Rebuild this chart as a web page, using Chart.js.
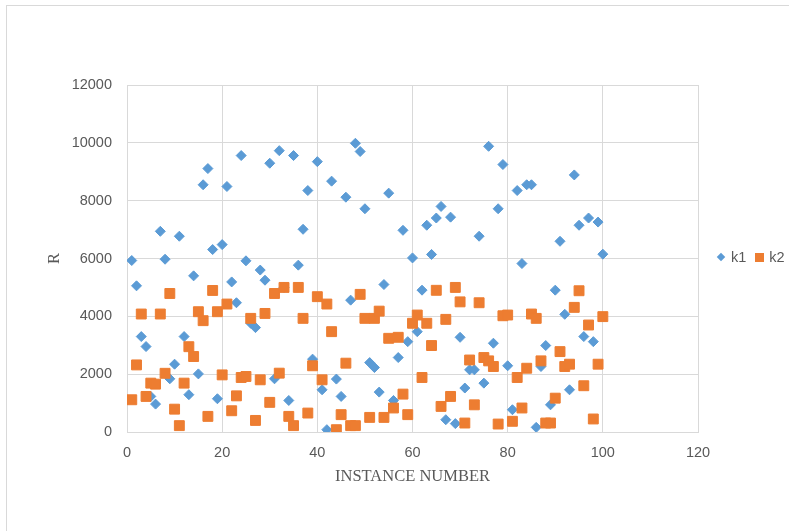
<!DOCTYPE html>
<html>
<head>
<meta charset="utf-8">
<script src="https://cdn.jsdelivr.net/npm/chart.js@4"></script>
<style>
  html, body { margin: 0; padding: 0; background: #fff; }
  #wrap { position: relative; width: 789px; height: 531px; overflow: hidden; }
  #frame { position: absolute; left: 6px; top: 5px; width: 820px; height: 600px; border: 1px solid #d9d9d9; }
  #chart { position: absolute; left: 0; top: 0; }
  #legend { position: absolute; left: 716px; top: 249px; font: 14.5px "Liberation Sans", Arial, sans-serif; color: #595959; white-space: nowrap; }
  #legend span.item { display: inline-block; margin-right: 9px; }
  #legend i { display: inline-block; vertical-align: middle; margin-right: 5px; position: relative; top: -1px; }
</style>
</head>
<body>
<div id="wrap">
  <div id="frame"></div>
  <canvas id="chart" width="789" height="531"></canvas>
  <div id="legend"></div>
</div>
<script>
// instance number (x)
const instances = [
  1, 2, 3, 4, 5, 6, 7, 8, 9, 10, 11, 12, 13, 14, 15, 16, 17, 18, 19, 20,
  21, 22, 23, 24, 25, 26, 27, 28, 29, 30, 31, 32, 33, 34, 35, 36, 37, 38, 39, 40,
  41, 42, 43, 44, 45, 46, 47, 48, 49, 50, 51, 52, 53, 54, 55, 56, 57, 58, 59, 60,
  61, 62, 63, 64, 65, 66, 67, 68, 69, 70, 71, 72, 73, 74, 75, 76, 77, 78, 79, 80,
  81, 82, 83, 84, 85, 86, 87, 88, 89, 90, 91, 92, 93, 94, 95, 96, 97, 98, 99, 100
];

// R values
const k1 = [
  5930, 5055, 3300, 2955, 1230, 965, 6940, 5975, 1840, 2345,
  6770, 3300, 1290, 5400, 2010, 8550, 9110, 6310, 1150, 6480,
  8490, 5190, 4470, 9560, 5920, 3760, 3610, 5600, 5250, 9295,
  1840, 9730, 5000, 1090, 9560, 5770, 7010, 8350, 2520, 9350,
  1460, 80, 8675, 1830, 1230, 8120, 4560, 9985, 9700, 7720,
  2400, 2230, 1380, 5100, 8260, 1090, 2575, 6975, 3125, 6020,
  3470, 4905, 7150, 6140, 7400, 7800, 425, 7430, 290, 3275,
  1520, 2150, 2150, 6770, 1690, 9880, 3070, 7720, 9250, 2290,
  770, 8350, 5825, 8550, 8550, 160, 2265, 2990, 940, 4905,
  6595, 4070, 1460, 8890, 7150, 3300, 7400, 3125, 7260, 6150
];

const k2 = [
  1115, 2320, 4080, 1230, 1690, 1655, 4080, 2030, 4790, 790,
  220, 1690, 2950, 2610, 4160, 3850, 540, 4895, 4160, 1975,
  4425, 735, 1250, 1885, 1920, 3930, 400, 1805, 4100, 1025,
  4790, 2035, 5000, 540, 220, 5000, 3930, 655, 2290, 4680,
  1805, 4425, 3470, 80, 600, 2380, 220, 220, 4760, 3930,
  505, 3930, 4180, 505, 3240, 830, 3275, 1310, 600, 3760,
  4045, 1885, 3760, 2990, 4900, 885, 3895, 1230, 5000, 4500,
  310, 2490, 940, 4470, 2575, 2460, 2265, 275, 4020, 4045,
  370, 1885, 830, 2205, 4080, 3930, 2460, 310, 310, 1170,
  2780, 2265, 2345, 4310, 4885, 1600, 3700, 450, 2345, 3990
];

const seriesNames = ['k1', 'k2'];
const seriesColors = ['#5B9BD5', '#ED7D31'];

const gridColor = '#d9d9d9';
const textColor = '#595959';

function toPoints(values) {
  return values.map((v, i) => ({ x: instances[i], y: v }));
}

const ctx = document.getElementById('chart').getContext('2d');

const chart = new Chart(ctx, {
  type: 'scatter',
  data: {
    datasets: [
      {
        label: seriesNames[0],
        data: toPoints(k1),
        pointStyle: 'rectRot',
        pointRadius: 5,
        pointHoverRadius: 5,
        backgroundColor: seriesColors[0],
        borderColor: seriesColors[0],
        borderWidth: 1,
        order: 2
      },
      {
        label: seriesNames[1],
        data: toPoints(k2),
        pointStyle: 'rect',
        pointRadius: 7,
        pointHoverRadius: 7,
        backgroundColor: seriesColors[1],
        borderColor: seriesColors[1],
        borderWidth: 1,
        order: 1
      }
    ]
  },
  options: {
    responsive: false,
    animation: false,
    events: [],
    layout: {
      padding: { left: 45, top: 85, right: 91, bottom: 37 }
    },
    plugins: {
      legend: { display: false },
      tooltip: { enabled: false }
    },
    scales: {
      x: {
        type: 'linear',
        min: 0,
        max: 120,
        afterFit: (scale) => { scale.height = 62; },
        ticks: {
          stepSize: 20,
          padding: 12,
          color: textColor,
          font: { family: '"Liberation Sans", Arial, sans-serif', size: 14.5 },
          maxRotation: 0,
          callback: (v) => String(v)
        },
        grid: { color: gridColor, drawTicks: false },
        border: { color: gridColor },
        title: {
          display: true,
          text: 'INSTANCE NUMBER',
          color: textColor,
          font: { family: '"Liberation Serif", "Times New Roman", serif', size: 16.5 },
          padding: { top: 0, bottom: 7 }
        }
      },
      y: {
        type: 'linear',
        min: 0,
        max: 12000,
        afterFit: (scale) => { scale.width = 82; },
        ticks: {
          stepSize: 2000,
          padding: 15,
          color: textColor,
          font: { family: '"Liberation Sans", Arial, sans-serif', size: 14.5 },
          callback: (v) => String(v)
        },
        grid: { color: gridColor, drawTicks: false },
        border: { display: false },
        title: {
          display: true,
          text: 'R',
          color: textColor,
          font: { family: '"Liberation Serif", "Times New Roman", serif', size: 16.5 },
          padding: { top: 0, bottom: 0 }
        }
      }
    }
  }
});

// legend built from the datasets, laid out side by side like the original
const legend = document.getElementById('legend');
chart.data.datasets.forEach((ds) => {
  const item = document.createElement('span');
  item.className = 'item';
  const mark = document.createElement('i');
  if (ds.pointStyle === 'rectRot') {
    mark.style.width = '6px';
    mark.style.height = '6px';
    mark.style.transform = 'rotate(45deg)';
    mark.style.marginLeft = '2px';
    mark.style.marginRight = '7px';
  } else {
    mark.style.width = '9px';
    mark.style.height = '9px';
  }
  mark.style.background = ds.backgroundColor;
  item.appendChild(mark);
  item.appendChild(document.createTextNode(ds.label));
  legend.appendChild(item);
});
</script>
</body>
</html>
